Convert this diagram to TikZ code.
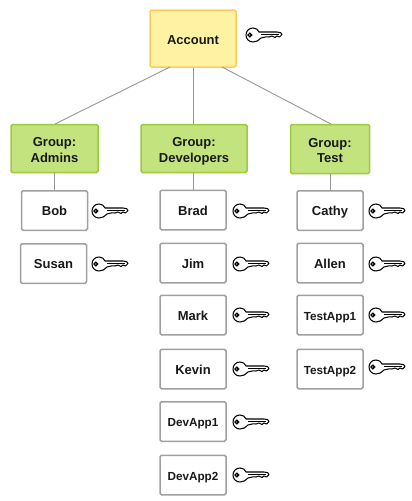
\documentclass[tikz,border=0pt]{standalone}
\usepackage{fontspec}
\setmainfont{Liberation Sans}
\definecolor{acctfill}{HTML}{FFF3A3}
\definecolor{acctline}{HTML}{FFCC5C}
\definecolor{grpfill}{HTML}{C2E37E}
\definecolor{grpline}{HTML}{9CCB3C}
\definecolor{usrline}{HTML}{A0A0A0}
\definecolor{conn}{HTML}{969696}
\tikzset{
  acct/.style={draw=acctline,fill=acctfill,line width=1.5pt,rounded corners=1.5pt,minimum width=86pt,minimum height=57pt,inner sep=0pt,font=\bfseries\fontsize{13}{15}\selectfont,text=black!90,align=center,text height=12.5pt,text depth=0pt},
  grp/.style={draw=grpline,fill=grpfill,line width=1.5pt,rounded corners=1.5pt,minimum height=48pt,inner sep=0pt,font=\bfseries\fontsize{13}{15.5}\selectfont,text=black!90,align=center,text height=27pt,text depth=0pt},
  usr/.style={draw=usrline,fill=white,line width=1.5pt,rounded corners=1.5pt,minimum width=66pt,minimum height=39.5pt,inner sep=0pt,font=\bfseries\fontsize{13}{15}\selectfont,text=black!90,align=center,text height=10.5pt,text depth=0pt},
  app/.style={usr,font=\bfseries\fontsize{11.7}{14}\selectfont},
  link/.style={draw=conn,line width=0.9pt},
  keyicon/.pic={
    \draw[black,line width=1.05pt,fill=white,line join=round]
      (0,0) .. controls (0,-4) and (3,-7) .. (7,-7)
      .. controls (10,-7) and (12,-5.5) .. (13,-3)
      -- (31,-3) .. controls (34,-3) and (36,-2) .. (36,-0.5)
      -- (33.5,2) -- (31,1) -- (29,2.5) -- (26,1) -- (23,2) -- (20,1.8) -- (15,3)
      .. controls (13,5.5) and (10,7) .. (7,7)
      .. controls (3,7) and (0,4) .. (0,0) -- cycle;
    \draw[black,line width=1.3pt] (3.8,0) circle (1.8pt);
    \draw[black,line width=0.8pt] (15,-0.6) -- (33,-0.6);
  }
}
\begin{document}
\begin{tikzpicture}[x=1pt,y=-1pt]
\useasboundingbox (0,0) rectangle (412,501);
\node[acct] (account) at (193,38.5) {Account};
\node[grp,minimum width=87pt] (admins) at (54.5,148.5) {Group:\\Admins};
\node[grp,minimum width=106pt] (devs) at (194,148.5) {Group:\\Developers};
\node[grp,minimum width=79pt,minimum height=49pt] (test) at (330,149) {Group:\\Test};
\node[usr] (bob) at (54.5,210.5) {Bob};
\node[usr] (susan) at (53.5,263.5) {Susan};
\node[usr] (brad) at (193,210) {Brad};
\node[usr] (jim) at (193,263) {Jim};
\node[usr] (mark) at (193,315) {Mark};
\node[usr] (kevin) at (193,369) {Kevin};
\node[app] (devapp1) at (193,421.5) {DevApp1};
\node[app] (devapp2) at (193,475) {DevApp2};
\node[usr] (cathy) at (330,210.5) {Cathy};
\node[usr] (allen) at (330,263) {Allen};
\node[app] (testapp1) at (330,315) {TestApp1};
\node[app] (testapp2) at (330,369) {TestApp2};
\coordinate (a1) at (170,67);
\coordinate (a2) at (222,67);
\coordinate (g1) at (55,124);
\coordinate (g3) at (331,124);
\draw[link] (a1) -- (g1);
\draw[link] (account.south) -- (account.south |- devs.north);
\draw[link] (a2) -- (g3);
\draw[link] (admins.south) -- (bob.north);
\draw[link] (brad.north |- devs.south) -- (brad.north);
\draw[link] (test.south) -- (cathy.north);
\pic at (92,211) {keyicon};
\pic at (246,35) {keyicon};
\pic at (92,264) {keyicon};
\pic at (233,211) {keyicon};
\pic at (233,264) {keyicon};
\pic at (233,315) {keyicon};
\pic at (233,369) {keyicon};
\pic at (233,422) {keyicon};
\pic at (233,475) {keyicon};
\pic at (369,211) {keyicon};
\pic at (369,264) {keyicon};
\pic at (369,315) {keyicon};
\pic at (369,367) {keyicon};
\end{tikzpicture}
\end{document}
